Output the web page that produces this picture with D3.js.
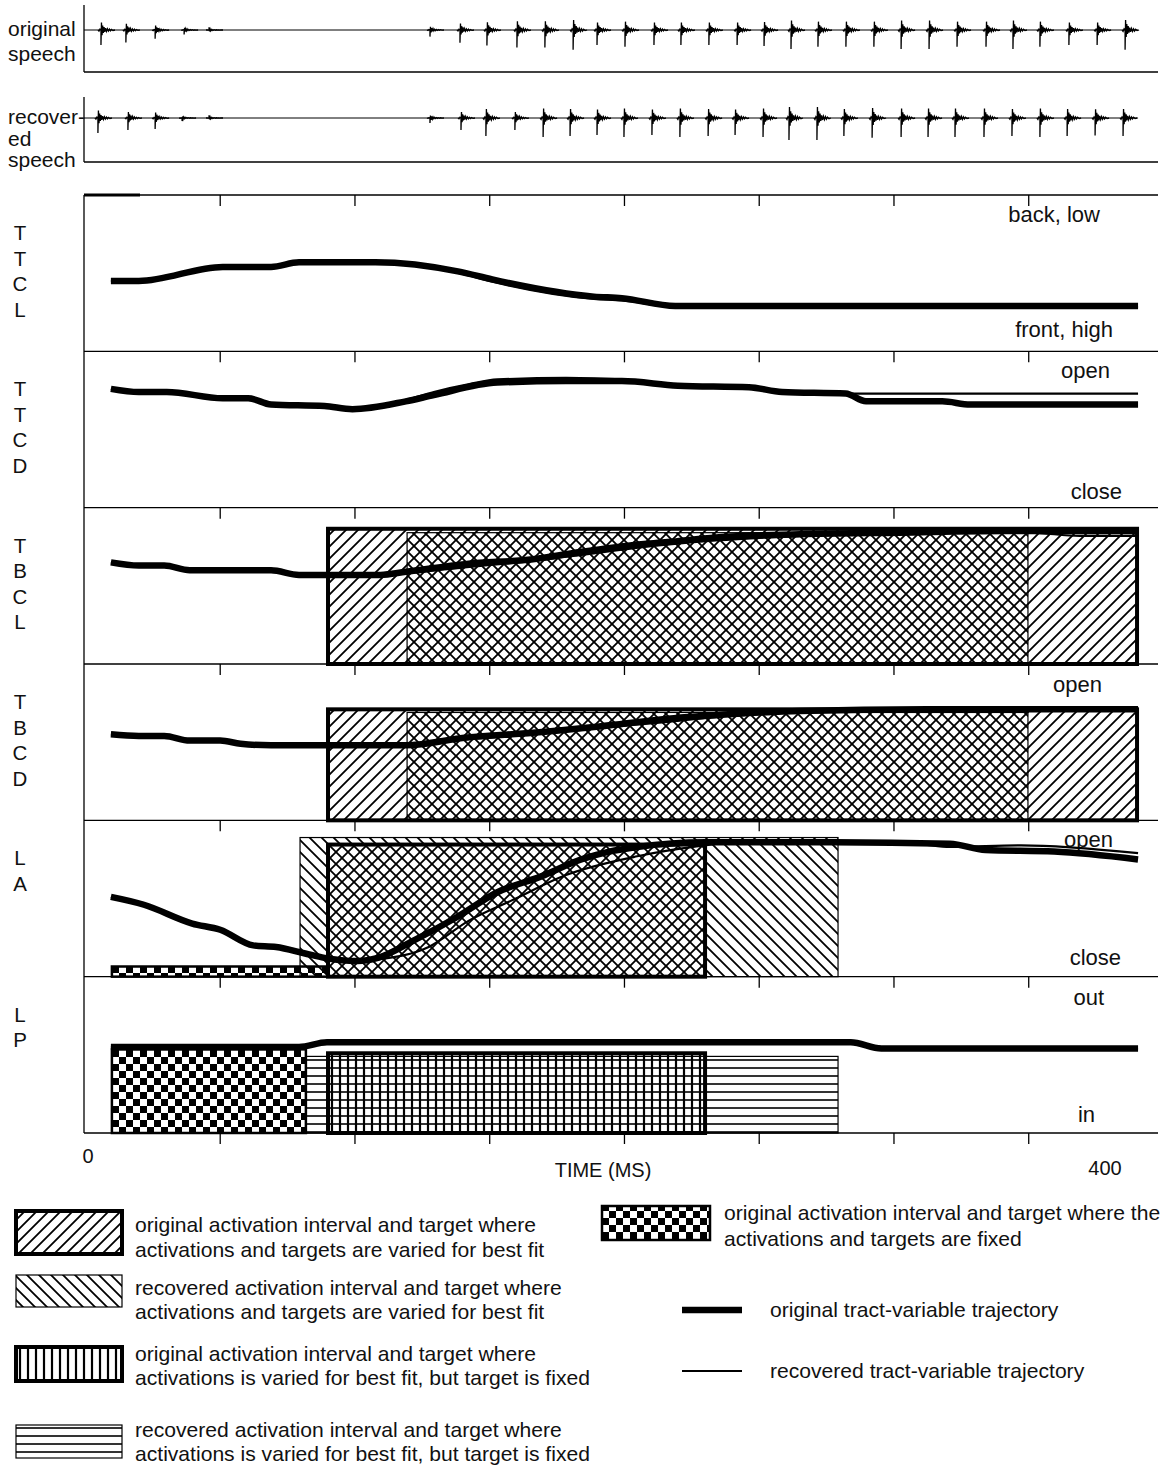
<!DOCTYPE html>
<html><head><meta charset="utf-8">
<script src="https://cdn.jsdelivr.net/npm/d3@7"></script>
<style>
body{margin:0;background:#fff}
svg{display:block}
text{font-family:"Liberation Sans",Arial,Helvetica,sans-serif;fill:#111}
</style>
</head><body>
<svg id="c" width="1172" height="1467"></svg>
<script>
// ---------------- DATA ----------------
const panelNames = ["TTCL","TTCD","TBCL","TBCD","LA","LP"];
const panelLetters = [["T","T","C","L"],["T","T","C","D"],["T","B","C","L"],["T","B","C","D"],["L","A"],["L","P"]];
const topLabels = ["back, low","open","","open","open","out"];
const bottomLabels = ["front, high","close","","","close","in"];
const tickTimes = [52,105,158,211,264,317,370];
const axisTickLabels = [0,400];
const axisTitle = "TIME (MS)";

// trajectories: [time (ms), value (0 = panel bottom, 100 = panel top)]
const origTTCL = [[9,45],[20,45],[53,54],[72,54],[83,57],[113,57],[146,51],[159,46],[199,35],[210,34],[231,29],[300,29],[413,29]];
const recTTCL  = [[9,45],[20,45],[53,54],[72,54],[83,57],[113,57],[146,50],[159,44.5],[199,33.5],[210,32.5],[231,28.5],[300,28.5],[413,28.5]];
const origTTCD = [[9,76],[20,74],[31,74],[53,70],[63,70],[72,66],[93,65],[104,63],[125,68],[136,72],[161,80],[188,81],[210,81],[232,78],[260,77],[273,74],[298,73],[306,68],[336,68],[347,66],[413,66]];
const recTTCD  = [[9,76],[20,74],[31,74],[53,70],[63,70],[72,66],[93,65],[104,63],[125,69],[136,74],[150,79],[161,82],[188,83],[210,82],[232,78],[260,77],[273,74],[298,73],[413,73]];
const origTBCL = [[9,65],[20,63],[30,63],[40,60],[72,60],[83,57],[94,57],[115,57],[125,59],[149,64],[175,67],[195,72],[214,76],[228,78],[247,81],[280,83],[319,84],[360,85],[413,85]];
const recTBCL  = [[9,65],[20,63],[30,63],[40,60],[72,60],[83,57],[94,57],[115,57],[125,58],[149,62],[175,66],[195,70],[214,74],[247,79],[280,82],[319,84],[370,84],[390,82],[413,82]];
const origTBCD = [[9,55],[20,54],[30,54],[40,51],[52,51],[60,49],[72,48],[125,48],[149,53],[175,56],[201,60],[228,65],[254,68],[280,70],[330,71],[413,71]];
const recTBCD  = [[9,55],[20,54],[30,54],[40,51],[52,51],[60,49],[72,48],[125,48],[149,52],[175,55],[201,59],[228,63],[254,67],[280,69],[330,70],[413,70]];
const origLA   = [[9,51],[22,46],[41,34],[52,30],[65,20],[74,19],[85,15],[93,12],[106,10],[114,12],[128,23],[145,38],[161,54],[178,64],[194,75],[205,80],[216,83],[243,86],[293,86],[339,85],[353,81],[380,80],[413,75]];
const recLA    = [[9,51],[22,46],[41,34],[52,30],[65,20],[74,19],[85,15],[93,12],[106,10],[114,11],[134,19],[150,36],[167,49],[188,65],[216,77],[238,83],[257,86],[293,86],[326,85],[339,83],[367,84],[413,79]];
const origLP   = [[9,55],[83,55],[94,58],[200,58],[300,58],[312,54],[360,54],[413,54]];
const recLP    = [[9,55],[83,55],[94,58],[200,58],[300,58],[312,55],[360,54],[413,54]];

// activation intervals (gestures)
const gesturePanel  = ["TBCL","TBCL","TBCD","TBCD","LA","LA","LA","LP","LP","LP"];
const gestureKind   = ["origVar","recVar","origVar","recVar","origFixed","origVar","recVar","origFixed","recFixTarget","origFixTarget"];
const gestureStart  = [94.4,125.5,94.4,125.5,9.4,94.4,83.4,9.4,85.7,94.4];
const gestureEnd    = [412.6,369.7,412.6,369.7,94.4,242.7,295,85.7,295,242.7];
const gestureTarget = [86.5,84,71,69,6.5,84.5,89,53.5,49,51];

// speech pulses: time (ms), relative amplitude
const origPulseTimes = [5.1,14.9,26.4,37.8,47.6,134.5,146.3,156.9,168.7,179.7,190.8,200.2,211.2,222.6,233.2,244.2,255.3,265.9,276.5,287.1,298.1,309.1,319.8,330.8,341.8,353.2,363.8,374.4,385.8,396.9,407.9];
const origPulseAmps  = [0.68,0.57,0.4,0.2,-0.12,0.3,0.58,0.7,0.8,0.8,0.9,0.68,0.76,0.68,0.68,0.68,0.68,0.73,0.86,0.76,0.76,0.76,0.86,0.86,0.76,0.76,0.86,0.76,0.68,0.68,0.9];
const recPulseTimes  = [3.9,15.7,26.4,37.0,47.6,134.5,146.7,156.5,167.9,179.0,189.6,200.2,210.8,221.8,232.8,243.9,254.5,265.5,275.7,286.7,297.3,308.4,319.8,330.4,341.0,352.4,363.4,374.4,385.1,396.1,407.1];
const recPulseAmps   = [0.68,0.55,0.5,0.14,-0.12,0.23,0.55,0.82,0.55,0.86,0.82,0.77,0.86,0.77,0.86,0.82,0.77,0.86,1.0,1.0,0.82,0.9,0.86,0.86,0.86,0.86,0.82,0.86,0.82,0.8,0.82];

const legendTexts = [
  ["original activation interval and target where","activations and targets are varied for best fit"],
  ["recovered activation interval and target where","activations and targets are varied for best fit"],
  ["original activation interval and target where","activations is varied for best fit, but target is fixed"],
  ["recovered activation interval and target where","activations is varied for best fit, but target is fixed"],
  ["original activation interval and target where the","activations and targets are fixed"]
];
const legendKinds = ["origVar","recVar","origFixTarget","recFixTarget","origFixed"];
const lineLegend = ["original tract-variable trajectory","recovered tract-variable trajectory"];

// ---------------- DRAW ----------------
const svg = d3.select("#c");
const x = d3.scaleLinear().domain([0,400]).range([88,1105]);
const AX0 = 84, AX1 = 1158;
const band = d3.scaleBand().domain(panelNames).range([195,1133]).paddingInner(0);
const yOf = name => d3.scaleLinear().domain([0,100]).range([band(name)+band.bandwidth(), band(name)]);

const defs = svg.append("defs");
function pat(id,w,h){ return defs.append("pattern").attr("id",id).attr("patternUnits","userSpaceOnUse").attr("width",w).attr("height",h); }
const s = 12;
pat("fwd",s,s).append("path").attr("d",`M${-s/2},${s/2}L${s/2},${-s/2}M0,${s}L${s},0M${s/2},${s*1.5}L${s*1.5},${s/2}`).attr("stroke","#000").attr("stroke-width",1.8).attr("fill","none");
pat("back",s,s).append("path").attr("d",`M${-s/2},${s/2}L${s/2},${s*1.5}M0,0L${s},${s}M${s/2},${-s/2}L${s*1.5},${s/2}`).attr("stroke","#000").attr("stroke-width",1.8).attr("fill","none");
pat("vert",8,8).append("path").attr("d","M4,0V8").attr("stroke","#000").attr("stroke-width",2.2);
pat("horiz",8,8).append("path").attr("d","M0,4H8").attr("stroke","#000").attr("stroke-width",1.6);
const ck = pat("checker",14,14);
ck.append("rect").attr("width",14).attr("height",14).attr("fill","#fff");
ck.append("rect").attr("x",0).attr("y",0).attr("width",7).attr("height",7).attr("fill","#000");
ck.append("rect").attr("x",7).attr("y",7).attr("width",7).attr("height",7).attr("fill","#000");

const kindStyle = {
  origVar:{fill:"url(#fwd)",sw:4},
  recVar:{fill:"url(#back)",sw:1.2},
  origFixed:{fill:"url(#checker)",sw:2.5},
  origFixTarget:{fill:"url(#vert)",sw:4},
  recFixTarget:{fill:"url(#horiz)",sw:1.2}
};

// speech panels
const speech = [
  {top:5, zero:30, bottom:72, labels:["original","speech"], base:[36,61], times:origPulseTimes, amps:origPulseAmps},
  {top:97, zero:118, bottom:162, labels:["recover-","ed","speech"], base:[124,146,167], times:recPulseTimes, amps:recPulseAmps}
];
const glyph = [[-3,0],[-2,-0.07],[-1,0.06],[0,0],[0,-1],[0.5,0.5],[1.1,-0.35],[1.7,0.3],[2.4,-0.2],[3.1,0.2],[3.9,-0.13],[4.7,0.12],[5.6,-0.09],[6.5,0.08],[7.5,-0.07],[8.5,0.06],[9.5,-0.05],[10.5,0.04],[12,-0.03],[14,0]];
speech.forEach(sp=>{
  const g = svg.append("g");
  const ys = d3.scaleLinear().domain([-1,1]).range([sp.zero+22, sp.zero-22]);
  g.append("line").attr("x1",AX0).attr("x2",AX0).attr("y1",sp.top).attr("y2",sp.bottom).attr("stroke","#000").attr("stroke-width",1.3);
  g.append("line").attr("x1",AX0).attr("x2",AX1).attr("y1",sp.bottom).attr("y2",sp.bottom).attr("stroke","#000").attr("stroke-width",1.3);
  g.append("line").attr("x1",AX0).attr("x2",x(413)).attr("y1",sp.zero).attr("y2",sp.zero).attr("stroke","#000").attr("stroke-width",1);
  sp.times.forEach((t,i)=>{
    const a = sp.amps[i];
    const line = d3.line().x(p=>x(t)+p[0]).y(p=>ys(p[1]*a));
    g.append("path").attr("d",line(glyph)).attr("fill","none").attr("stroke","#000").attr("stroke-width",1.3);
  });
  sp.labels.forEach((l,i)=>{
    g.append("text").attr("x",8).attr("y",sp.base[i]).attr("font-size",21).text(l);
  });
});

// main panels
const trajOrig = {TTCL:origTTCL,TTCD:origTTCD,TBCL:origTBCL,TBCD:origTBCD,LA:origLA,LP:origLP};
const trajRec  = {TTCL:recTTCL,TTCD:recTTCD,TBCL:recTBCL,TBCD:recTBCD,LA:recLA,LP:recLP};
const topLabelEnd = [1100,1110,0,1102,1113,1104];
const topLabelBase = [222,378,0,692,847,1005];
const botLabelEnd = [1113,1122,0,0,1121,1095];
const botLabelBase = [337,499,0,0,965,1122];

const g = svg.append("g");
g.append("line").attr("x1",AX0).attr("x2",AX0).attr("y1",195).attr("y2",1133).attr("stroke","#000").attr("stroke-width",1.3);
const bounds = panelNames.map(n=>band(n)).concat([1133]);
bounds.forEach(by=>{
  g.append("line").attr("x1",AX0).attr("x2",AX1).attr("y1",by).attr("y2",by).attr("stroke","#000").attr("stroke-width",1.3);
  tickTimes.forEach(t=>{
    g.append("line").attr("x1",x(t)).attr("x2",x(t)).attr("y1",by).attr("y2",by+11).attr("stroke","#000").attr("stroke-width",1.3);
  });
});
g.append("line").attr("x1",AX0).attr("x2",140).attr("y1",195).attr("y2",195).attr("stroke","#000").attr("stroke-width",3);

panelNames.forEach((n,pi)=>{
  const top = band(n);
  panelLetters[pi].forEach((l,i)=>{
    g.append("text").attr("x",20).attr("y",top+45+i*25.5).attr("text-anchor","middle").attr("font-size",20.5).text(l);
  });
  if(topLabels[pi]) g.append("text").attr("x",topLabelEnd[pi]).attr("y",topLabelBase[pi]).attr("text-anchor","end").attr("font-size",22).text(topLabels[pi]);
  if(bottomLabels[pi]) g.append("text").attr("x",botLabelEnd[pi]).attr("y",botLabelBase[pi]).attr("text-anchor","end").attr("font-size",22).text(bottomLabels[pi]);
});

const gestures = gesturePanel.map((p,i)=>({p,kind:gestureKind[i],t0:gestureStart[i],t1:gestureEnd[i],v:gestureTarget[i]}));
const boxG = g.append("g");
gestures.forEach(d=>{
  const y = yOf(d.p);
  boxG.append("rect").attr("x",x(d.t0)).attr("width",x(d.t1)-x(d.t0)).attr("y",y(d.v)).attr("height",y(0)-y(d.v)).attr("fill",kindStyle[d.kind].fill).attr("stroke","none");
});
gestures.slice().sort((a,b)=>kindStyle[a.kind].sw-kindStyle[b.kind].sw).forEach(d=>{
  const y = yOf(d.p);
  boxG.append("rect").attr("x",x(d.t0)).attr("width",x(d.t1)-x(d.t0)).attr("y",y(d.v)).attr("height",y(0)-y(d.v)).attr("fill","none").attr("stroke","#000").attr("stroke-width",kindStyle[d.kind].sw);
});

panelNames.forEach(n=>{
  const y = yOf(n);
  const line = d3.line().x(d=>x(d[0])).y(d=>y(d[1])).curve(d3.curveMonotoneX);
  g.append("path").attr("d",line(trajOrig[n])).attr("fill","none").attr("stroke","#000").attr("stroke-width",6.5).attr("stroke-linejoin","round");
  g.append("path").attr("d",line(trajRec[n])).attr("fill","none").attr("stroke","#000").attr("stroke-width",2.2).attr("stroke-linejoin","round");
});

g.append("text").attr("x",x(axisTickLabels[0])).attr("y",1163).attr("text-anchor","middle").attr("font-size",20).text(axisTickLabels[0]);
g.append("text").attr("x",x(axisTickLabels[1])).attr("y",1175).attr("text-anchor","middle").attr("font-size",20).text(axisTickLabels[1]);
g.append("text").attr("x",603).attr("y",1177).attr("text-anchor","middle").attr("font-size",20).text(axisTitle);

const lg = svg.append("g");
const swatchPos = [[16,1211,106,43],[16,1275,106,32],[16,1347,106,34],[16,1425,106,33],[602,1206,108,34]];
const textPos = [[135,1232,1257],[135,1295,1319],[135,1361,1385],[135,1437,1461],[724,1220,1246]];
legendKinds.forEach((k,i)=>{
  const [sx,sy,sw,sh] = swatchPos[i];
  lg.append("rect").attr("x",sx).attr("y",sy).attr("width",sw).attr("height",sh).attr("fill",kindStyle[k].fill).attr("stroke","#000").attr("stroke-width",kindStyle[k].sw);
  const [tx,b1,b2] = textPos[i];
  lg.append("text").attr("x",tx).attr("y",b1).attr("font-size",21.1).text(legendTexts[i][0]);
  lg.append("text").attr("x",tx).attr("y",b2).attr("font-size",21.1).text(legendTexts[i][1]);
});
[[6.5,1310],[2.2,1371]].forEach(([w,ly],i)=>{
  lg.append("line").attr("x1",682).attr("x2",742).attr("y1",ly).attr("y2",ly).attr("stroke","#000").attr("stroke-width",w);
  lg.append("text").attr("x",770).attr("y",ly+7).attr("font-size",21.1).text(lineLegend[i]);
});
</script>
</body></html>
